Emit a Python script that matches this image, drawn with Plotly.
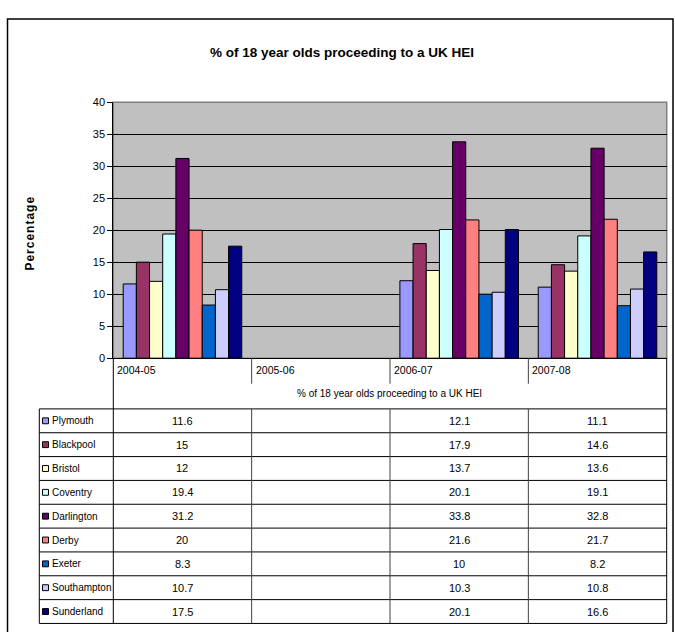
import plotly.graph_objects as go

# ---- data ----
years = ["2004-05", "2005-06", "2006-07", "2007-08"]
towns = ["Plymouth", "Blackpool", "Bristol", "Coventry", "Darlington",
         "Derby", "Exeter", "Southampton", "Sunderland"]
plymouth = [11.6, None, 12.1, 11.1]
blackpool = [15, None, 17.9, 14.6]
bristol = [12, None, 13.7, 13.6]
coventry = [19.4, None, 20.1, 19.1]
darlington = [31.2, None, 33.8, 32.8]
derby = [20, None, 21.6, 21.7]
exeter = [8.3, None, 10, 8.2]
southampton = [10.7, None, 10.3, 10.8]
sunderland = [17.5, None, 20.1, 16.6]
series = [plymouth, blackpool, bristol, coventry, darlington,
          derby, exeter, southampton, sunderland]
colors = ["#9999FF", "#993366", "#FFFFCC", "#CCFFFF", "#660066",
          "#FF8080", "#0066CC", "#CCCCFF", "#000080"]
title_text = "% of 18 year olds proceeding to a UK HEI"
y_ticks = [0, 5, 10, 15, 20, 25, 30, 35, 40]

# ---- geometry (pixels) ----
W, H = 675, 632
PL, PR, PT, PB = 113.3, 666.7, 98.0, 359.0      # plot area
TL = 39.3                                        # table left edge
TT = 410.7                                       # top of value rows
ROW = 24.3                                       # row height
FONT = "Liberation Sans, Arial"


def px(x):
    return x / W


def py(y):
    return 1 - y / H


fig = go.Figure()
for name, vals, col in zip(towns, series, colors):
    fig.add_trace(go.Bar(
        x=years, y=vals, name=name, marker_color=col,
        marker_line=dict(color="#000000", width=1), showlegend=False))

shapes = []
annotations = []


def line(x0, y0, x1, y1, color="#000000", width=1):
    shapes.append(dict(type="line", xref="paper", yref="paper",
                       x0=px(x0), y0=py(y0), x1=px(x1), y1=py(y1),
                       line=dict(color=color, width=width), layer="above"))


def text(x, y, s, size=11, anchor="center", bold=False, angle=0):
    annotations.append(dict(xref="paper", yref="paper", x=px(x), y=py(y),
                            text=f"<b>{s}</b>" if bold else s, showarrow=False,
                            xanchor=anchor, yanchor="middle", textangle=angle,
                            font=dict(family=FONT, size=size, color="#000000")))


# outer chart border
shapes.append(dict(type="rect", xref="paper", yref="paper",
                   x0=px(7.5), y0=py(13.3), x1=px(673), y1=py(645),
                   line=dict(color="#000000", width=1.5), layer="below"))
# plot-area border
shapes.append(dict(type="rect", xref="paper", yref="paper",
                   x0=px(PL), y0=py(PB), x1=px(PR), y1=py(PT),
                   line=dict(color="#808080", width=1.5), layer="below"))

# category header cells
col_w = (PR - PL) / len(years)
col_x = [PL + i * col_w for i in range(len(years) + 1)]
for i, yr in enumerate(years):
    text(col_x[i] + 2, 371.5, yr, size=10.5, anchor="left")
for cx in col_x[1:-1]:
    line(cx, PB, cx, 385, color="#404040")
line(PL, PB, PL, TT)
line(PR, PB, PR, TT)
text((PL + PR) / 2, 395, title_text, size=10)

# data table
n = len(towns)
bottom = TT + n * ROW
for r in range(n + 1):
    line(TL, TT + r * ROW, PR, TT + r * ROW)
line(TL, TT, TL, bottom)
for k, cx in enumerate(col_x):
    edge = k in (0, len(col_x) - 1)
    line(cx, TT, cx, bottom, color="#000000" if edge else "#404040")

for r, (name, vals, col) in enumerate(zip(towns, series, colors)):
    yc = TT + (r + 0.5) * ROW
    shapes.append(dict(type="rect", xref="paper", yref="paper",
                       x0=px(42.5), y0=py(yc + 3), x1=px(48.5), y1=py(yc - 3),
                       fillcolor=col, line=dict(color="#000000", width=1),
                       layer="above"))
    text(50, yc, name, size=10, anchor="left")
    for i, v in enumerate(vals):
        if v is not None:
            text((col_x[i] + col_x[i + 1]) / 2, yc, f"{v:g}", size=11)

# titles
text(342, 47, title_text, size=13.5, bold=True)
text(30, 232, "\u200a".join("Percentage"), size=12, bold=True, angle=-90)

fig.update_layout(
    width=W, height=H, margin=dict(l=0, r=0, t=0, b=0),
    paper_bgcolor="#FFFFFF", plot_bgcolor="#C0C0C0",
    barmode="group", bargap=0.143, bargroupgap=0,
    shapes=shapes, annotations=annotations,
    font=dict(family=FONT, size=11, color="#000000"),
    xaxis=dict(type="category", domain=[px(PL), px(PR)], range=[-0.5, 3.5],
               showticklabels=False, ticks="", showgrid=False,
               showline=True, linecolor="#000000", linewidth=1,
               zeroline=False),
    yaxis=dict(domain=[py(PB), py(PT)], range=[0, 40], tickvals=y_ticks,
               ticks="outside", ticklen=5, tickcolor="#000000",
               showgrid=True, gridcolor="#000000", gridwidth=1,
               showline=True, linecolor="#000000", linewidth=1,
               zeroline=False, tickfont=dict(family=FONT, size=11)),
)

fig.write_html("out.html")
